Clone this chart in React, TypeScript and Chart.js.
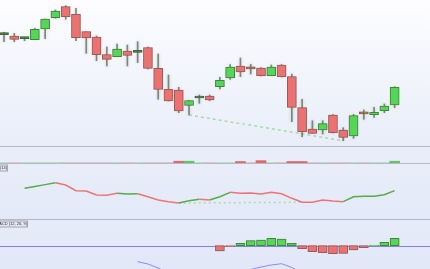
import React, { useEffect, useRef } from "react";
import { Chart, registerables } from "chart.js";

Chart.register(...registerables);

// ---------- data ----------
const opens = [
  58.53, 58.4, 58.13, 58.03, 59.1, 60.23, 61.33, 60.57, 58.83, 58.3,
  56.55, 56.33, 56.9, 56.77, 57.25, 55.17, 53.07, 53.0, 51.47, 52.2,
  52.4, 53.33, 54.2, 55.4, 55.14, 55.2, 54.43, 55.5, 54.33, 51.23,
  49.1, 49.0, 50.5, 49.0, 48.4, 50.64, 50.53, 50.93, 51.5,
];
const highs = [
  58.77, 58.67, 58.27, 59.17, 60.1, 61.0, 61.43, 61.17, 58.83, 58.4,
  57.3, 57.6, 57.5, 57.83, 57.3, 56.6, 54.5, 53.27, 51.97, 52.5,
  52.5, 54.27, 55.53, 56.2, 55.57, 55.25, 55.5, 55.55, 54.6, 52.07,
  49.93, 49.93, 50.55, 49.23, 50.57, 51.0, 51.27, 51.6, 53.33,
];
const lows = [
  57.83, 57.83, 57.93, 58.03, 58.13, 60.17, 60.07, 57.93, 56.67, 55.93,
  55.4, 56.33, 55.4, 55.73, 55.1, 52.07, 51.9, 50.73, 50.5, 51.67,
  51.93, 53.1, 54.07, 54.33, 54.6, 54.4, 54.43, 54.3, 49.83, 48.33,
  48.67, 48.6, 48.7, 47.93, 48.17, 50.07, 50.27, 50.73, 51.23,
];
const closes = [
  58.55, 58.07, 58.15, 59.07, 60.1, 60.9, 60.33, 58.23, 58.2, 56.53,
  56.07, 57.1, 56.47, 56.79, 55.17, 53.07, 51.9, 50.9, 51.93, 52.22,
  52.0, 53.97, 55.3, 54.8, 55.12, 54.43, 55.3, 54.33, 51.27, 48.83,
  48.67, 49.63, 48.73, 48.27, 50.43, 50.62, 50.77, 51.4, 53.27,
];

const stripValues = [
  0, 0, 0, 0, 0, 0, 0, 0, 0, 0,
  0, 0, 0, 0, 0, 0, 0, 12, 12, 0,
  0, 0, 0, 10, 0, 16, 0, 0, 10, 10,
  0, 0, 0, 0, 0, 0, 0, 0, 12,
];

const rsiValues: (number | null)[] = [
  null, null, 55.8, 59.1, 62.5, 66.0, 61.8, 51.5, 50.9, 43.6,
  43.0, 46.7, 45.5, 46.0, 40.6, 34.5, 31.5, 29.1, 33.3, 35.8,
  34.5, 40.5, 48.5, 46.7, 47.3, 45.5, 48.5, 46.0, 37.6, 30.4,
  30.4, 34.5, 32.7, 31.5, 40.5, 41.3, 41.3, 44.2, 51.5,
];
// colour of the segment that ends at each point: u = green, d = red
const rsiTrend = "---uuuddddddUUddddUUdUUdddddddddddUUUUU".toLowerCase();

const macdHist: (number | null)[] = [
  null, null, null, null, null, null, null, null, null, null,
  null, null, null, null, null, null, null, null, null, null,
  null, -0.106, -0.02, 0.048, 0.1, 0.114, 0.148, 0.134, 0.048, -0.06,
  -0.12, -0.14, -0.16, -0.152, -0.086, -0.04, 0.006, 0.068, 0.148,
];
const macdLine: (number | null)[] = [
  null, null, null, null, null, null, null, null, null, null,
  null, null, null, -0.32, -0.366, -0.446, -0.546, -0.646, -0.706, -0.726,
  -0.706, -0.666, -0.586, -0.526, -0.476, -0.426, -0.386, -0.36, -0.436, -0.546,
  -0.666, -0.746, -0.806, -0.846, -0.826, -0.786, -0.746, -0.686, -0.606,
];

const priceDivergence = [18, 33];
const rsiDivergence = [17, 29];

const rsiLabel = "RSI (14)";
const macdLabel = "MACD (12, 26, 9)";

// ---------- layout / style ----------
const W = 430;
const X_MIN = -0.39;
const X_MAX = 41.44;
const GREEN = "#55d655";
const GREEN_BORDER = "#3f8e3f";
const RED = "#ec7272";
const RED_BORDER = "#a65c5c";
const DOJI_UP = "#3d6b3d";
const DOJI_DOWN = "#9c5a3e";

const xScale = () => ({
  type: "linear" as const,
  min: X_MIN,
  max: X_MAX,
  display: false,
  offset: false,
});

const baseOptions = {
  responsive: false,
  animation: false as const,
  events: [] as any[],
  layout: { padding: 0 },
  plugins: { legend: { display: false }, tooltip: { enabled: false } },
};

const shadowPlugin = {
  id: "barShadow",
  beforeDatasetDraw(chart: any, args: any) {
    const ctx = chart.ctx;
    ctx.save();
    if (args.meta.type === "bar") {
      ctx.shadowColor = "rgba(70,80,70,0.35)";
      ctx.shadowBlur = 3;
      ctx.shadowOffsetX = 0;
      ctx.shadowOffsetY = 0;
    }
  },
  afterDatasetDraw(chart: any) {
    chart.ctx.restore();
  },
};

const makeLabelPlugin = (text: string, rightX: number, top: number) => ({
  id: "paneLabel",
  afterDraw(chart: any) {
    const ctx = chart.ctx;
    ctx.save();
    ctx.font = "4px Arial, 'Liberation Sans', sans-serif";
    const tw = ctx.measureText(text).width;
    const left = rightX - tw - 2;
    ctx.fillStyle = "#e3e7ef";
    ctx.strokeStyle = "#9ea6b4";
    ctx.lineWidth = 1;
    ctx.fillRect(left, top, rightX - left, 7);
    ctx.strokeRect(left + 0.5, top + 0.5, rightX - left - 1, 6);
    ctx.fillStyle = "#333";
    ctx.textBaseline = "middle";
    ctx.fillText(text, left + 1, top + 3.8);
    ctx.restore();
  },
});

const zeroLinePlugin = {
  id: "zeroLine",
  beforeDatasetsDraw(chart: any) {
    const ctx = chart.ctx;
    const y = Math.round(chart.scales.y.getPixelForValue(0)) + 0.5;
    ctx.save();
    ctx.strokeStyle = "#8282ee";
    ctx.lineWidth = 1;
    ctx.beginPath();
    ctx.moveTo(chart.chartArea.left, y);
    ctx.lineTo(chart.chartArea.right, y);
    ctx.stroke();
    ctx.restore();
  },
};

export default function App() {
  const mainRef = useRef<HTMLCanvasElement>(null);
  const stripRef = useRef<HTMLCanvasElement>(null);
  const rsiRef = useRef<HTMLCanvasElement>(null);
  const macdRef = useRef<HTMLCanvasElement>(null);

  useEffect(() => {
    document.body.style.margin = "0";
    const charts: Chart[] = [];
    const idx = opens.map((_, i) => i);
    const isUp = idx.map((i) => closes[i] >= opens[i]);
    const isDoji = idx.map((i) => Math.abs(closes[i] - opens[i]) < 0.05);
    const bodyFill = idx.map((i) =>
      isDoji[i] ? (isUp[i] ? DOJI_UP : DOJI_DOWN) : isUp[i] ? GREEN : RED
    );
    const bodyBorder = idx.map((i) =>
      isDoji[i] ? (isUp[i] ? DOJI_UP : DOJI_DOWN) : isUp[i] ? GREEN_BORDER : RED_BORDER
    );

    // main price pane
    charts.push(
      new Chart(mainRef.current!, {
        type: "bar",
        data: {
          datasets: [
            {
              type: "bar",
              data: idx.map((i) => ({ x: i, y: [opens[i], closes[i]] })) as any,
              backgroundColor: bodyFill,
              borderColor: bodyBorder,
              borderWidth: 1,
              borderSkipped: false,
              barThickness: 9,
              minBarLength: 2,
              grouped: false,
              order: 0,
            } as any,
            {
              type: "bar",
              data: idx.map((i) => ({ x: i, y: [lows[i], highs[i]] })) as any,
              backgroundColor: "rgba(95,115,95,0.8)",
              borderWidth: 0,
              barThickness: 1,
              grouped: false,
              order: 1,
            } as any,
            {
              type: "line",
              data: priceDivergence.map((i) => ({ x: i, y: lows[i] })),
              borderColor: "#a3dea3",
              borderWidth: 1.5,
              borderDash: [3, 3],
              pointRadius: 0,
              order: 2,
            } as any,
          ],
        },
        options: {
          ...baseOptions,
          scales: {
            x: xScale(),
            y: { type: "linear", min: 47.3, max: 62.0, display: false },
          },
        } as any,
        plugins: [shadowPlugin],
      })
    );

    // thin strip pane
    charts.push(
      new Chart(stripRef.current!, {
        type: "bar",
        data: {
          datasets: [
            {
              data: idx.map((i) => ({ x: i, y: stripValues[i] })) as any,
              backgroundColor: idx.map((i) => (isUp[i] ? "#5cc85c" : "#e06a6a")),
              borderWidth: 0,
              barThickness: 10,
              grouped: false,
            } as any,
          ],
        },
        options: {
          ...baseOptions,
          scales: {
            x: xScale(),
            y: { type: "linear", min: 0, max: 100, display: false },
          },
        } as any,
      })
    );

    // RSI pane
    charts.push(
      new Chart(rsiRef.current!, {
        type: "line",
        data: {
          datasets: [
            {
              data: idx.map((i) => ({ x: i, y: rsiValues[i] })) as any,
              borderWidth: 1.5,
              pointRadius: 0,
              borderColor: "#5aab46",
              segment: {
                borderColor: (ctx: any) =>
                  rsiTrend[ctx.p1DataIndex] === "u" ? "#5aab46" : "#f07373",
              },
            } as any,
            {
              data: rsiDivergence.map((i) => ({ x: i, y: rsiValues[i] })),
              borderColor: "#a8e0a8",
              borderWidth: 1.5,
              borderDash: [2, 3],
              pointRadius: 0,
            } as any,
          ],
        },
        options: {
          ...baseOptions,
          scales: {
            x: xScale(),
            y: { type: "linear", min: 0, max: 101.82, display: false },
          },
        } as any,
        plugins: [makeLabelPlugin(rsiLabel, 8, 1.5)],
      })
    );

    // MACD pane
    charts.push(
      new Chart(macdRef.current!, {
        type: "bar",
        data: {
          datasets: [
            {
              type: "bar",
              data: idx.map((i) => ({ x: i, y: macdHist[i] })) as any,
              backgroundColor: idx.map((i) => ((macdHist[i] ?? 0) >= 0 ? GREEN : RED)),
              borderColor: idx.map((i) =>
                (macdHist[i] ?? 0) >= 0 ? GREEN_BORDER : RED_BORDER
              ),
              borderWidth: 1,
              borderSkipped: false,
              barThickness: 9,
              grouped: false,
              order: 1,
            } as any,
            {
              type: "line",
              data: idx.map((i) => ({ x: i, y: macdLine[i] })) as any,
              borderColor: "#8a8af4",
              borderWidth: 1,
              pointRadius: 0,
              order: 0,
            } as any,
          ],
        },
        options: {
          ...baseOptions,
          scales: {
            x: xScale(),
            y: { type: "linear", min: -0.466, max: 0.514, display: false },
          },
        } as any,
        plugins: [zeroLinePlugin, shadowPlugin, makeLabelPlugin(macdLabel, 28, 0.5)],
      })
    );

    return () => charts.forEach((c) => c.destroy());
  }, []);

  const abs = (top: number, height: number, extra: React.CSSProperties = {}) =>
    ({ position: "absolute", left: 0, top, width: W, height, ...extra } as React.CSSProperties);

  return (
    <div style={{ position: "relative", width: W, height: 269, overflow: "hidden" }}>
      <div style={abs(0, 147, { background: "linear-gradient(#fdfdff, #e8edf9)" })} />
      <div style={abs(147, 16, { background: "#e8edf9" })} />
      <div style={abs(163, 56, { background: "linear-gradient(#e8edf9, #e3e9f8)" })} />
      <div style={abs(219, 50, { background: "linear-gradient(#e6ebf9, #e2e8f8)" })} />
      <canvas ref={mainRef} width={W} height={147} style={abs(0, 147)} />
      <canvas ref={stripRef} width={W} height={15} style={abs(148, 15)} />
      <canvas ref={rsiRef} width={W} height={56} style={abs(163, 56)} />
      <canvas ref={macdRef} width={W} height={49} style={abs(220, 49)} />
      <div style={abs(146, 1, { background: "#b3bac6" })} />
      <div style={abs(163, 1, { background: "#b3bac6" })} />
      <div style={abs(219, 1, { background: "#b3bac6" })} />
    </div>
  );
}
